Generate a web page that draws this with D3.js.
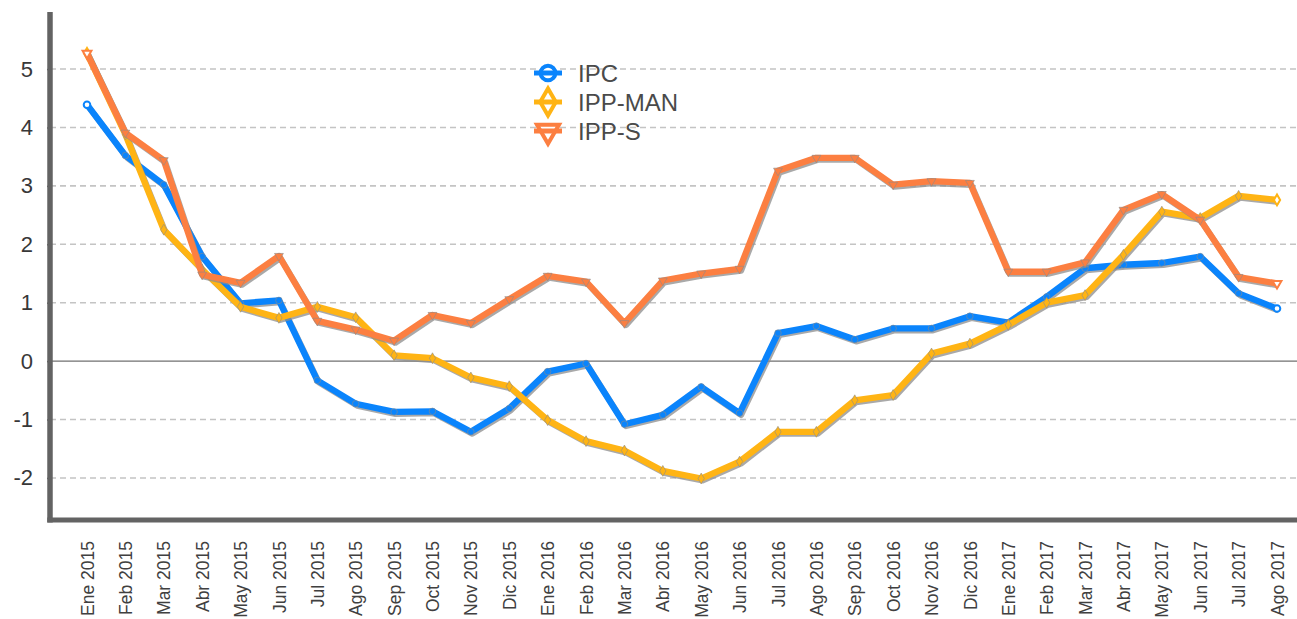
<!DOCTYPE html>
<html>
<head>
<meta charset="utf-8">
<script src="https://cdn.jsdelivr.net/npm/d3@7"></script>
<style>
  html, body { margin: 0; padding: 0; background: #ffffff; }
  svg { display: block; font-family: "Liberation Sans", Arial, sans-serif; }
</style>
</head>
<body>
<svg id="chart" width="1297" height="619"></svg>
<script>
// Monthly year-on-year variation (%) of consumer and producer price indices
const months = [
  "Ene 2015", "Feb 2015", "Mar 2015", "Abr 2015", "May 2015", "Jun 2015",
  "Jul 2015", "Ago 2015", "Sep 2015", "Oct 2015", "Nov 2015", "Dic 2015",
  "Ene 2016", "Feb 2016", "Mar 2016", "Abr 2016", "May 2016", "Jun 2016",
  "Jul 2016", "Ago 2016", "Sep 2016", "Oct 2016", "Nov 2016", "Dic 2016",
  "Ene 2017", "Feb 2017", "Mar 2017", "Abr 2017", "May 2017", "Jun 2017",
  "Jul 2017", "Ago 2017"
];

const ipc = [4.39, 3.52, 3.02, 1.79, 0.99, 1.04, -0.33, -0.73, -0.87, -0.86, -1.21, -0.81,
  -0.18, -0.04, -1.08, -0.92, -0.44, -0.89, 0.48, 0.60, 0.37, 0.56, 0.56, 0.77,
  0.66, 1.10, 1.59, 1.65, 1.68, 1.79, 1.16, 0.90];

const ippMan = [5.27, 3.88, 2.25, 1.57, 0.93, 0.74, 0.93, 0.75, 0.10, 0.05, -0.28, -0.43,
  -1.01, -1.37, -1.53, -1.88, -2.01, -1.72, -1.21, -1.21, -0.67, -0.58, 0.13, 0.30,
  0.62, 1.00, 1.13, 1.82, 2.56, 2.45, 2.83, 2.76];

const ippS = [5.27, 3.91, 3.44, 1.48, 1.34, 1.80, 0.69, 0.54, 0.35, 0.79, 0.65, 1.06,
  1.46, 1.36, 0.65, 1.38, 1.50, 1.58, 3.26, 3.48, 3.48, 3.02, 3.08, 3.05,
  1.53, 1.53, 1.69, 2.59, 2.86, 2.42, 1.44, 1.33];

const yTicks = [-2, -1, 0, 1, 2, 3, 4, 5];

const seriesNames = ["IPC", "IPP-MAN", "IPP-S"];
const seriesColors = ["#0a84fc", "#ffb414", "#fc7f41"];
const seriesSymbols = [d3.symbolCircle, d3.symbolDiamond, d3.symbolTriangle];

const series = [ipc, ippMan, ippS].map((values, i) => ({
  name: seriesNames[i], color: seriesColors[i], symbol: seriesSymbols[i], values
}));

const svg = d3.select("#chart");

const x = d3.scalePoint().domain(months).range([87, 1277]);
const y = d3.scaleLinear().domain([-2.72, 5.96]).range([520, 13]);
const axisX = 50, rightEdge = 1297;

// Horizontal grid lines (dashed), zero line solid
const grid = svg.append("g");
grid.selectAll("line")
  .data(yTicks)
  .join("line")
  .attr("x1", axisX).attr("x2", rightEdge)
  .attr("y1", d => y(d)).attr("y2", d => y(d))
  .attr("stroke", d => d === 0 ? "#707070" : "#c4c4c4")
  .attr("stroke-width", d => d === 0 ? 1.3 : 1.6)
  .attr("stroke-dasharray", d => d === 0 ? null : "6,4");

// Y axis labels (plain hyphen for negatives)
const yAxis = d3.axisLeft(y).tickValues(yTicks).tickSize(3).tickPadding(14)
  .tickFormat(d => String(d));
const gy = svg.append("g").attr("transform", `translate(${axisX},0)`).call(yAxis);
gy.select(".domain").remove();
gy.selectAll(".tick line").attr("stroke", "#666").attr("stroke-width", 1.5);
gy.selectAll(".tick text")
  .attr("fill", "#383838")
  .style("font-size", "22px")
  .style("font-family", "'Liberation Sans', Arial, sans-serif");

// X axis labels (rotated)
const xAxis = d3.axisBottom(x).tickSize(0).tickPadding(0);
const gx = svg.append("g").attr("transform", "translate(0,541)").call(xAxis);
gx.select(".domain").remove();
gx.selectAll(".tick text")
  .attr("fill", "#404040")
  .attr("transform", "rotate(-90)")
  .attr("text-anchor", "end")
  .attr("x", 0)
  .attr("y", 0)
  .attr("dy", "0.35em")
  .style("font-size", "17.5px")
  .style("font-family", "'Liberation Sans', Arial, sans-serif");

// Thick axis frame lines
svg.append("line")
  .attr("x1", axisX).attr("x2", axisX)
  .attr("y1", 12).attr("y2", 522.5)
  .attr("stroke", "#636363").attr("stroke-width", 5.5);
svg.append("line")
  .attr("x1", axisX - 2.7).attr("x2", rightEdge)
  .attr("y1", 520).attr("y2", 520)
  .attr("stroke", "#636363").attr("stroke-width", 5);

const line = d3.line()
  .x((d, i) => x(months[i]))
  .y(d => y(d));

const plot = svg.append("g");

series.forEach(s => {
  const g = plot.append("g");
  // soft drop shadow
  g.append("path")
    .datum(s.values)
    .attr("d", line)
    .attr("transform", "translate(1.5,2)")
    .attr("fill", "none")
    .attr("stroke", "#8c8c8c")
    .attr("stroke-opacity", 0.75)
    .attr("stroke-width", 6)
    .attr("stroke-linejoin", "round");
  g.append("path")
    .datum(s.values)
    .attr("d", line)
    .attr("fill", "none")
    .attr("stroke", s.color)
    .attr("stroke-width", 6.3)
    .attr("stroke-linejoin", "round")
    .attr("stroke-linecap", "round");
  const last = s.values.length - 1;
  g.selectAll("path.marker")
    .data(s.values)
    .join("path")
    .attr("class", "marker")
    .attr("d", d3.symbol().type(s.symbol).size(34))
    .attr("transform", (d, i) =>
      `translate(${x(months[i])},${y(d)})` + (s.symbol === d3.symbolTriangle ? " rotate(180)" : ""))
    .attr("fill", (d, i) => (i === 0 || i === last) ? "#ffffff" : s.color)
    .attr("stroke", (d, i) => (i === 0 || i === last) ? s.color : "#8c8c8c")
    .attr("stroke-width", (d, i) => (i === 0 || i === last) ? 2 : 0.6);
});

// Legend
const legend = svg.append("g");
const legendY = [73, 102, 131];
series.forEach((s, i) => {
  const g = legend.append("g").attr("transform", `translate(548,${legendY[i]})`);
  g.append("path")
    .attr("d", d3.symbol().type(s.symbol).size(s.symbol === d3.symbolCircle ? 170 : 210))
    .attr("transform", s.symbol === d3.symbolTriangle ? "rotate(180)" : null)
    .attr("fill", "#ffffff")
    .attr("stroke", s.color)
    .attr("stroke-width", 4);
  g.append("line")
    .attr("x1", -14).attr("x2", 14)
    .attr("y1", 0).attr("y2", 0)
    .attr("stroke", s.color)
    .attr("stroke-width", 5);
  g.append("text")
    .attr("x", 30)
    .attr("y", 0)
    .attr("dy", "0.36em")
    .attr("fill", "#4a4a4a")
    .style("font-size", "24px")
    .text(s.name);
});
</script>
</body>
</html>
